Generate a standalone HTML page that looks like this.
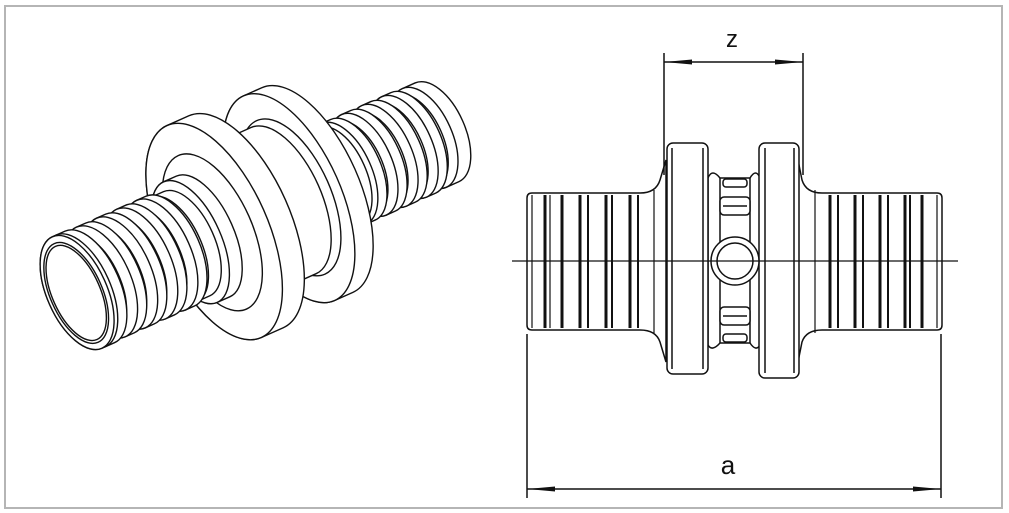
<!DOCTYPE html>
<html><head><meta charset="utf-8"><style>
html,body{margin:0;padding:0;background:#fff;width:1009px;height:513px;overflow:hidden}
svg{display:block}
</style></head><body>
<svg width="1009" height="513" viewBox="0 0 1009 513" xmlns="http://www.w3.org/2000/svg">
<rect x="5" y="6" width="997" height="502" fill="#fff" stroke="#b5b5b5" stroke-width="2"/>

<g transform="translate(258,212) rotate(-24)" fill="#fff" stroke="#111" stroke-width="1.4">
  <path d="M182,-54 L196,-54 A28,54 0 0 1 196,54 L182,54 A28,54 0 0 1 182,-54 Z"/><ellipse cx="182" cy="0" rx="28" ry="54"/>
  <ellipse cx="174" cy="0" rx="26" ry="50"/>
  <path d="M160,-55 L170,-55 A28,55 0 0 1 170,55 L160,55 A28,55 0 0 1 160,-55 Z"/><ellipse cx="160" cy="0" rx="28" ry="55"/>
  <ellipse cx="152" cy="0" rx="26" ry="50"/>
  <path d="M138,-55 L148,-55 A28,55 0 0 1 148,55 L138,55 A28,55 0 0 1 138,-55 Z"/><ellipse cx="138" cy="0" rx="28" ry="55"/>
  <ellipse cx="130" cy="0" rx="26" ry="50"/>
  <path d="M116,-55 L126,-55 A28,55 0 0 1 126,55 L116,55 A28,55 0 0 1 116,-55 Z"/><ellipse cx="116" cy="0" rx="28" ry="55"/>
  <ellipse cx="108" cy="0" rx="26" ry="50"/>
  <path d="M94,-55 L104,-55 A28,55 0 0 1 104,55 L94,55 A28,55 0 0 1 94,-55 Z"/><ellipse cx="94" cy="0" rx="28" ry="55"/>
  <path d="M72,-52 L90,-52 A26,52 0 0 1 90,52 L72,52 A26,52 0 0 1 72,-52 Z"/><ellipse cx="72" cy="0" rx="26" ry="52"/>
  <path d="M60,-64 L70,-64 A30,64 0 0 1 70,64 L60,64 A30,64 0 0 1 60,-64 Z"/><ellipse cx="60" cy="0" rx="30" ry="64"/>
  <path d="M34,-112 L54,-112 A52,112 0 0 1 54,112 L34,112 A52,112 0 0 1 34,-112 Z"/><ellipse cx="34" cy="0" rx="52" ry="112"/>
  <ellipse cx="36" cy="0" rx="40" ry="84"/>
  <path d="M-14,-80 L28,-80 A38,80 0 0 1 28,80 L-14,80 A38,80 0 0 1 -14,-80 Z"/>
  <rect x="-30" y="-70" width="14" height="12" rx="3"/>
  <rect x="-40" y="-32" width="14" height="14" rx="3"/>
  <ellipse cx="-36" cy="30" rx="9" ry="13"/>
  <path d="M-48,-116 L-24,-116 A54,116 0 0 1 -24,116 L-48,116 A54,116 0 0 1 -48,-116 Z"/><ellipse cx="-48" cy="0" rx="54" ry="116"/>
  <ellipse cx="-50" cy="0" rx="40" ry="84"/>
  <path d="M-74,-66 L-60,-66 A31,66 0 0 1 -60,66 L-74,66 A31,66 0 0 1 -74,-66 Z"/><ellipse cx="-74" cy="0" rx="31" ry="66"/>
  <path d="M-92,-57 L-78,-57 A28,57 0 0 1 -78,57 L-92,57 A28,57 0 0 1 -92,-57 Z"/><ellipse cx="-92" cy="0" rx="28" ry="57"/>
  <path d="M-106,-60 L-96,-60 A30,60 0 0 1 -96,60 L-106,60 A30,60 0 0 1 -106,-60 Z"/><ellipse cx="-106" cy="0" rx="30" ry="60"/>
  <ellipse cx="-114" cy="0" rx="27" ry="54"/>
  <path d="M-128,-60 L-118,-60 A30,60 0 0 1 -118,60 L-128,60 A30,60 0 0 1 -128,-60 Z"/><ellipse cx="-128" cy="0" rx="30" ry="60"/>
  <ellipse cx="-136" cy="0" rx="27" ry="54"/>
  <path d="M-150,-60 L-140,-60 A30,60 0 0 1 -140,60 L-150,60 A30,60 0 0 1 -150,-60 Z"/><ellipse cx="-150" cy="0" rx="30" ry="60"/>
  <ellipse cx="-158" cy="0" rx="27" ry="54"/>
  <path d="M-172,-60 L-162,-60 A30,60 0 0 1 -162,60 L-172,60 A30,60 0 0 1 -172,-60 Z"/><ellipse cx="-172" cy="0" rx="30" ry="60"/>
  <ellipse cx="-180" cy="0" rx="27" ry="54"/>
  <path d="M-198,-61 L-184,-61 A30,61 0 0 1 -184,61 L-198,61 A30,61 0 0 1 -198,-61 Z"/>
  <ellipse cx="-194" cy="0" rx="30" ry="61"/>
  <ellipse cx="-198" cy="0" rx="30" ry="61"/>
  <ellipse cx="-199" cy="0" rx="26" ry="54"/>
  <ellipse cx="-199" cy="0" rx="24" ry="51"/>
</g>

<g fill="none" stroke="#111" stroke-width="1.5">
  <path d="M532,193 L640,193 Q656,193 660,180 L666,160 L666,362 L660,342 Q656,330 640,330 L532,330 Q527,330 527,325 L527,198 Q527,193 532,193 Z" fill="#fff"/>
  <path d="M937,193 L822,193 Q806,193 802,180 L798,160 L798,362 L802,342 Q806,330 822,330 L937,330 Q942,330 942,325 L942,198 Q942,193 937,193 Z" fill="#fff"/>
  <path d="M708,178 Q712,168 720,178 L750,178 Q756,168 760,178 L760,345 Q756,352 750,343 L720,343 Q712,352 708,345 Z" fill="#fff"/>
  <line x1="720" y1="178" x2="720" y2="343"/>
  <line x1="750" y1="178" x2="750" y2="343"/>
  <rect x="667" y="143" width="41" height="231" rx="6" fill="#fff"/>
  <line x1="672" y1="148" x2="672" y2="369"/><line x1="703" y1="148" x2="703" y2="369"/>
  <rect x="759" y="143" width="40" height="235" rx="6" fill="#fff"/>
  <line x1="765" y1="148" x2="765" y2="373"/><line x1="794" y1="148" x2="794" y2="373"/>
  <rect x="723" y="179" width="24" height="8" rx="3" fill="#fff"/>
  <rect x="720" y="197" width="30" height="18" rx="4" fill="#fff"/>
  <line x1="723" y1="206" x2="747" y2="206"/>
  <rect x="720" y="307" width="30" height="18" rx="4" fill="#fff"/>
  <line x1="723" y1="316" x2="747" y2="316"/>
  <rect x="723" y="334" width="24" height="8" rx="3" fill="#fff"/>
  <circle cx="735" cy="261" r="24" fill="#fff"/>
  <circle cx="735" cy="261" r="18"/>
  <g stroke-width="1.2">
    <line x1="532" y1="195" x2="532" y2="328"/>
    <line x1="545" y1="195" x2="545" y2="328" stroke-width="3"/>
    <line x1="550" y1="195" x2="550" y2="328"/>
    <line x1="562" y1="195" x2="562" y2="328" stroke-width="3"/>
    <line x1="580" y1="195" x2="580" y2="328" stroke-width="3"/>
    <line x1="588" y1="195" x2="588" y2="328" stroke-width="2"/>
    <line x1="606" y1="195" x2="606" y2="328" stroke-width="3"/>
    <line x1="612" y1="195" x2="612" y2="328" stroke-width="2"/>
    <line x1="630" y1="195" x2="630" y2="328" stroke-width="3"/>
    <line x1="638" y1="195" x2="638" y2="328" stroke-width="2"/>
    <line x1="654" y1="190" x2="654" y2="333"/>
  </g>
  <g stroke-width="1.2">
    <line x1="815" y1="190" x2="815" y2="333"/>
    <line x1="830" y1="195" x2="830" y2="328" stroke-width="3"/>
    <line x1="838" y1="195" x2="838" y2="328" stroke-width="2"/>
    <line x1="855" y1="195" x2="855" y2="328" stroke-width="3"/>
    <line x1="863" y1="195" x2="863" y2="328" stroke-width="2"/>
    <line x1="880" y1="195" x2="880" y2="328" stroke-width="3"/>
    <line x1="888" y1="195" x2="888" y2="328" stroke-width="2"/>
    <line x1="905" y1="195" x2="905" y2="328" stroke-width="3"/>
    <line x1="910" y1="195" x2="910" y2="328" stroke-width="2"/>
    <line x1="922" y1="195" x2="922" y2="328" stroke-width="3"/>
    <line x1="937" y1="195" x2="937" y2="328"/>
  </g>
  <line x1="512" y1="261" x2="958" y2="261" stroke-width="1.2"/>
  <line x1="664" y1="53" x2="664" y2="175"/>
  <line x1="803" y1="53" x2="803" y2="175"/>
  <line x1="664" y1="62" x2="803" y2="62"/>
  <line x1="527" y1="334" x2="527" y2="498"/>
  <line x1="941" y1="334" x2="941" y2="498"/>
  <line x1="527" y1="489" x2="941" y2="489"/>
</g>
<g fill="#111">
  <path d="M664,62 L692,59.5 L692,64.5 Z"/>
  <path d="M803,62 L775,59.5 L775,64.5 Z"/>
  <path d="M527,489 L555,486.5 L555,491.5 Z"/>
  <path d="M941,489 L913,486.5 L913,491.5 Z"/>
</g>
<text x="732" y="47" font-family="Liberation Sans, sans-serif" font-size="24" text-anchor="middle" fill="#111">z</text>
<text x="728" y="474" font-family="Liberation Sans, sans-serif" font-size="26" text-anchor="middle" fill="#111">a</text>
</svg>
</body></html>
